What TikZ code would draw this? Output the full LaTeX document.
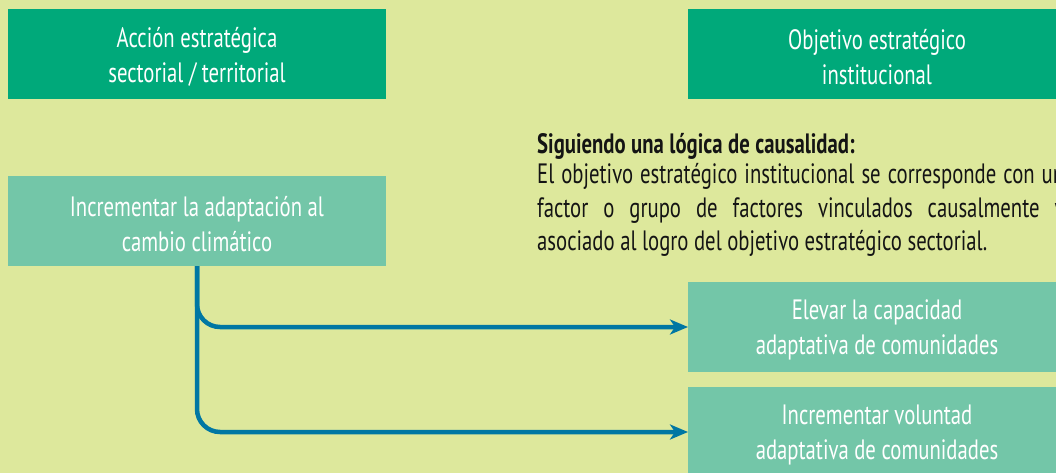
\documentclass[tikz,border=0pt]{standalone}
\usepackage{fontspec}
\setmainfont{PT Sans}[FakeStretch=0.74]
\usetikzlibrary{arrows.meta}
\definecolor{bg}{RGB}{221,232,156}
\definecolor{dkgreen}{RGB}{0,169,122}
\definecolor{ltgreen}{RGB}{115,198,168}
\definecolor{arrowblue}{RGB}{0,119,163}
\definecolor{txt}{RGB}{20,20,20}
\newcommand{\lowstrut}{\rule{0pt}{26pt}}
\begin{document}
\begin{tikzpicture}[x=1pt,y=-1pt,
  boxbase/.style={inner sep=0pt, outer sep=0pt, minimum width=378pt, minimum height=90pt, anchor=north west,
    text=white, font=\fontsize{28}{35}\selectfont, align=center},
  darkbox/.style={boxbase, fill=dkgreen},
  lightbox/.style={boxbase, fill=ltgreen},
  conn/.style={draw=arrowblue, line width=4.5pt, rounded corners=23pt,
    -{Stealth[length=18pt,width=15pt,inset=5pt]}}]
\useasboundingbox (0,0) rectangle (1056,473);
\clip (0,0) rectangle (1056,473);
\fill[bg] (0,0) rectangle (1056,473);
\node[darkbox] (A) at (8,9) {\lowstrut Acción estratégica\\sectorial / territorial};
\node[darkbox] (B) at (688,9) {\lowstrut Objetivo estratégico\\institucional};
\node[lightbox] (C) at (8,176) {\lowstrut Incrementar la adaptación al\\cambio climático};
\node[lightbox] (D) at (688,282) {\lowstrut Elevar la capacidad\\adaptativa de comunidades};
\node[lightbox] (E) at (688,387) {\lowstrut Incrementar voluntad\\adaptativa de comunidades};
\draw[conn] (C.south) |- (D.west);
\draw[conn] (C.south) |- (E.west);
\node[anchor=north west, inner sep=0pt, text width=527pt, align=justify, text=txt,
  font=\fontsize{28}{33.5}\selectfont] (P) at (537,133)
  {\spaceskip=\fontdimen2\font plus 20em minus \fontdimen4\font
   \textbf{Siguiendo una lógica de causalidad:}\\[-3pt]
   El objetivo estratégico institucional se corresponde con un\linebreak
   factor o grupo de factores vinculados causalmente y\linebreak
   asociado al logro del objetivo estratégico sectorial.};
\end{tikzpicture}
\end{document}
